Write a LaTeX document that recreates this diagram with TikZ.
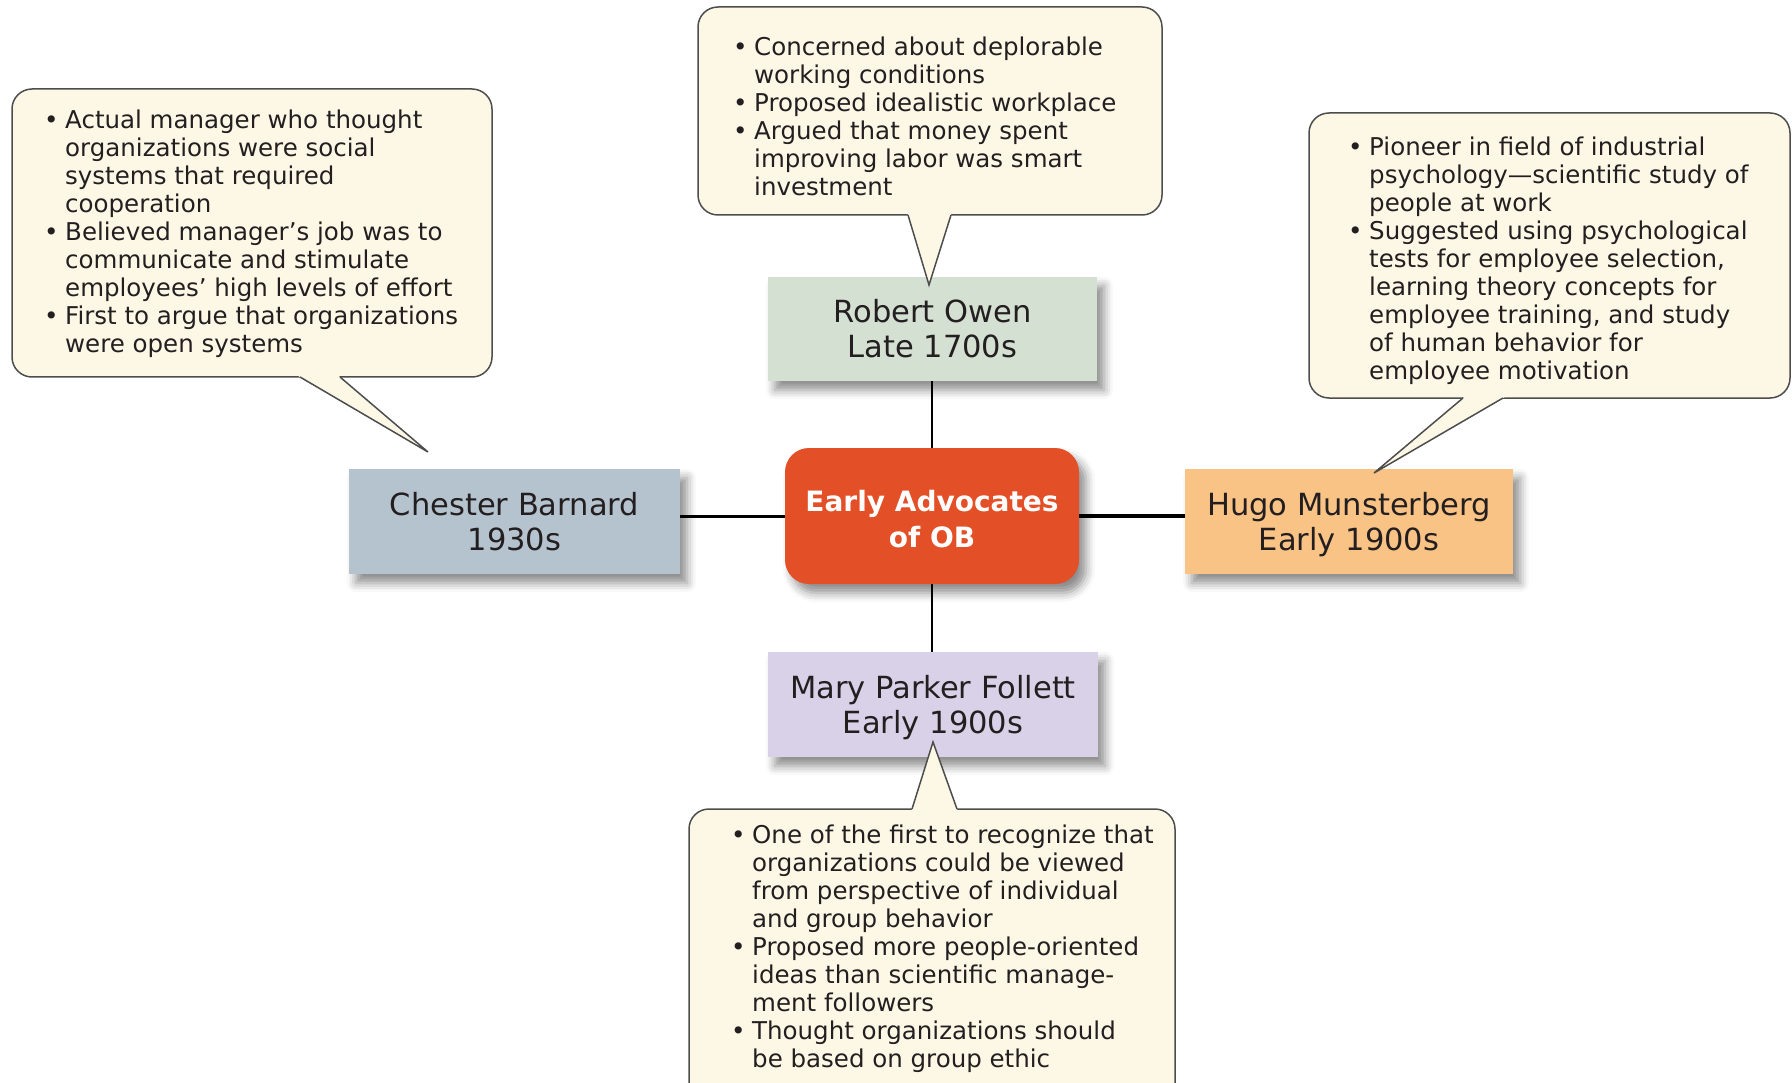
\documentclass[tikz,border=0pt]{standalone}
\usepackage{fontspec}
\setmainfont{DejaVu Sans}
\usetikzlibrary{calc,shadows.blur}
\definecolor{cream}{HTML}{FDF7E6}
\definecolor{cline}{HTML}{4D4D4D}
\definecolor{txt}{HTML}{231F20}
\definecolor{owenc}{HTML}{D4E0D2}
\definecolor{barnc}{HTML}{B5C3CE}
\definecolor{munc}{HTML}{F9C386}
\definecolor{maryc}{HTML}{D9D1E7}
\definecolor{obred}{HTML}{E34F27}
\newcommand\bul{\makebox[21pt][l]{•}}
\newcommand\ind{\hspace*{21pt}}
\newcommand\fst{\rule{0pt}{20pt}}
\newcommand\ptop{\rule{0pt}{30.5pt}}
\newcommand\pbot{\rule[-8pt]{0pt}{8pt}}
\newcommand\htop{\rule{0pt}{34pt}}
\newcommand\hbot{\rule[-7.1pt]{0pt}{7.1pt}}
\tikzset{
  person/.style={draw=none, minimum width=330pt, minimum height=105pt, inner sep=0pt,
    align=center, font=\fontsize{30.5}{35.5}\selectfont, text=txt,
    blur shadow={shadow xshift=7pt, shadow yshift=-9pt, shadow blur radius=9pt, shadow opacity=45}},
  hub/.style={fill=obred, rounded corners=24pt, minimum width=294pt, minimum height=136pt,
    inner sep=0pt, align=center, text=white, font=\fontsize{28}{35.5}\selectfont\bfseries,
    blur shadow={shadow xshift=7pt, shadow yshift=-9pt, shadow blur radius=9pt, shadow opacity=45}},
  callout/.style={draw=cline, line width=1.5pt, fill=cream, rounded corners=20pt, inner sep=0pt},
  tailline/.style={draw=cline, line width=1.5pt, line join=miter},
  ctext/.style={anchor=north west, inner sep=0pt, align=left, text=txt,
    font=\fontsize{24.5}{28}\selectfont},
  link/.style={draw=black, line width=3pt}
}
\begin{document}
\begin{tikzpicture}[x=1pt,y=-1pt]
\useasboundingbox (0,0) rectangle (1792,1083);

% person boxes
\node[person, fill=owenc, minimum width=329pt, minimum height=104pt] (owen) at (932.5,329) {\ptop Robert Owen\\Late 1700s\pbot};
\node[person, fill=barnc, minimum width=331pt] (barn) at (514.5,521.5) {\ptop Chester Barnard\\1930s\pbot};
\node[person, fill=munc, minimum width=328pt] (mun) at (1349,521.5) {\ptop Hugo Munsterberg\\Early 1900s\pbot};
\node[person, fill=maryc] (mary) at (933,704.5) {\ptop Mary Parker Follett\\Early 1900s\pbot};
\node[hub] (hub) at (932,516) {\htop Early Advocates\\of OB\hbot};

% connectors
\draw[link, line width=2.5pt] (hub.north) -- (hub.north |- owen.south);
\draw[link, line width=2.5pt] (hub.south) -- (hub.south |- mary.north);
\draw[link] (hub.west) -- (hub.west -| barn.east);
\draw[link, line width=4.5pt] (hub.east) -- (hub.east -| mun.west);

% callout frames
\node[callout, minimum width=480pt, minimum height=288pt] (cL) at (252,233) {};
\node[callout, minimum width=464pt, minimum height=208pt] (cT) at (930,111) {};
\node[callout, minimum width=481pt, minimum height=285pt] (cR) at (1549.5,255.5) {};
\node[callout, minimum width=486pt, minimum height=300pt] (cB) at (932,959) {};

% tails
\coordinate (lb1) at (300,377); \coordinate (lb2) at (340,377); \coordinate (lt) at (428,452);
\coordinate (tb1) at (908,215); \coordinate (tb2) at (951,215); \coordinate (tt) at (929,285);
\coordinate (rb1) at (1463,398); \coordinate (rb2) at (1503,398); \coordinate (rt) at (1374,473);
\coordinate (bb1) at (912,809); \coordinate (bb2) at (957,809); \coordinate (bt) at (933,742);
\foreach \a/\b/\t in {lb1/lb2/lt, tb1/tb2/tt, rb1/rb2/rt, bb1/bb2/bt}{
  \fill[cream] ($(\a)!-0.06!(\t)$) -- (\t) -- ($(\b)!-0.06!(\t)$) -- cycle;
  \draw[tailline] (\a) -- (\t) -- (\b);
}

% callout texts
\node[ctext] (tL) at (44,108) {\fst\bul Actual manager who thought\\
\ind organizations were social\\
\ind systems that required\\
\ind cooperation\\
\bul Believed manager’s job was to\\
\ind communicate and stimulate\\
\ind employees’ high levels of effort\\
\bul First to argue that organizations\\
\ind were open systems};

\node[ctext] (tT) at (733,35) {\fst\bul Concerned about deplorable\\
\ind working conditions\\
\bul Proposed idealistic workplace\\
\bul Argued that money spent\\
\ind improving labor was smart\\
\ind investment};

\node[ctext] (tR) at (1348,135) {\fst\bul Pioneer in field of industrial\\
\ind psychology—scientific study of\\
\ind people at work\\
\bul Suggested using psychological\\
\ind tests for employee selection,\\
\ind learning theory concepts for\\
\ind employee training, and study\\
\ind of human behavior for\\
\ind employee motivation};

\node[ctext] (tB) at (731,823) {\fst\bul One of the first to recognize that\\
\ind organizations could be viewed\\
\ind from perspective of individual\\
\ind and group behavior\\
\bul Proposed more people-oriented\\
\ind ideas than scientific manage-\\
\ind ment followers\\
\bul Thought organizations should\\
\ind be based on group ethic};
\end{tikzpicture}
\end{document}
